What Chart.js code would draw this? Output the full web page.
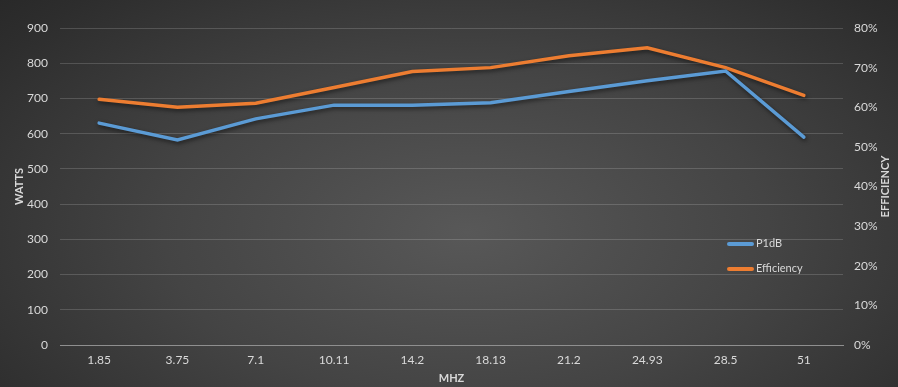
<!DOCTYPE html>
<html>
<head>
<meta charset="utf-8">
<script src="https://cdn.jsdelivr.net/npm/chart.js@4.4.1/dist/chart.umd.min.js"></script>
<style>
    html, body { margin: 0; padding: 0; }
    body {
        width: 898px; height: 387px; overflow: hidden;
        background: radial-gradient(ellipse 75% 95% at 52% 60%, #585858 0%, #444444 45%, #2d2d2d 85%, #262626 100%);
        font-family: Lato, "Open Sans", sans-serif;
    }
    .wrap { position: relative; width: 898px; height: 387px; }
    canvas { display: block; }
    .legend { position: absolute; left: 727px; top: 236px; color: #d9d9d9; font-size: 11px; }
    .legend div { height: 25px; display: flex; align-items: flex-start; }
    .legend span.sw { display: inline-block; width: 27px; height: 4px; border-radius: 2px; margin-top: 6px; margin-right: 2px; }
</style>
</head>
<body>
<div class="wrap">
    <canvas id="chart" width="898" height="387"></canvas>
    <div class="legend">
        <div><span class="sw" style="background:#5b9bd5"></span>P1dB</div>
        <div><span class="sw" style="background:#ed7d31"></span>Efficiency</div>
    </div>
</div>
<script>
var categories = ['1.85', '3.75', '7.1', '10.11', '14.2', '18.13', '21.2', '24.93', '28.5', '51'];
var p1dbWatts = [630, 582, 642, 681, 681, 688, 720, 750, 778, 590];
var efficiencyPct = [62, 60, 61, 65, 69, 70, 73, 75, 70, 63];

(function () {
    var tickColor = '#d9d9d9';
    var gridColor = 'rgba(255,255,255,0.16)';
    var fontFamily = 'Lato, "Open Sans", sans-serif';
    var tickFont = { family: fontFamily, size: 12 };
    var titleFont = { family: fontFamily, size: 11, weight: 'bold' };

    // soft drop shadow under the lines
    var shadowPlugin = {
        id: 'lineShadow',
        beforeDatasetsDraw: function (chart) {
            var ctx = chart.ctx;
            ctx.save();
            ctx.shadowColor = 'rgba(0,0,0,0.55)';
            ctx.shadowBlur = 4;
            ctx.shadowOffsetX = 1;
            ctx.shadowOffsetY = 2;
        },
        afterDatasetsDraw: function (chart) { chart.ctx.restore(); }
    };

    // right axis title reads bottom-to-top like the left one
    var rightTitle = {
        id: 'rightTitle',
        afterDraw: function (chart) {
            var ctx = chart.ctx, s = chart.scales.y1, a = chart.chartArea;
            ctx.save();
            ctx.translate(s.right - 13, (a.top + a.bottom) / 2);
            ctx.rotate(-Math.PI / 2);
            ctx.fillStyle = tickColor;
            ctx.font = 'bold 11px ' + fontFamily;
            ctx.textAlign = 'center';
            ctx.textBaseline = 'middle';
            ctx.fillText('EFFICIENCY', 0, 0);
            ctx.restore();
        }
    };

    new Chart(document.getElementById('chart'), {
        type: 'line',
        data: {
            labels: categories,
            datasets: [
                {
                    label: 'P1dB',
                    data: p1dbWatts,
                    yAxisID: 'y',
                    borderColor: '#5b9bd5',
                    backgroundColor: '#5b9bd5',
                    borderWidth: 3.5,
                    pointRadius: 0,
                    tension: 0,
                    borderCapStyle: 'round'
                },
                {
                    label: 'Efficiency',
                    data: efficiencyPct,
                    yAxisID: 'y1',
                    borderColor: '#ed7d31',
                    backgroundColor: '#ed7d31',
                    borderWidth: 3.5,
                    pointRadius: 0,
                    tension: 0,
                    borderCapStyle: 'round'
                }
            ]
        },
        options: {
            responsive: false,
            animation: false,
            layout: { padding: { left: 0, right: 0, top: 28, bottom: 0 } },
            plugins: { legend: { display: false }, tooltip: { enabled: false } },
            scales: {
                x: {
                    offset: true,
                    afterFit: function (s) { s.height = 42; },
                    grid: { display: false, drawTicks: false },
                    border: { color: '#8f8f8f', width: 1 },
                    ticks: { color: tickColor, font: tickFont, padding: 8, maxRotation: 0 },
                    title: { display: true, text: 'MHZ', color: tickColor, font: titleFont, padding: { top: 0, bottom: 2 } }
                },
                y: {
                    position: 'left',
                    min: 0, max: 900,
                    afterFit: function (s) { s.width = 60; },
                    ticks: { stepSize: 100, color: tickColor, font: tickFont, padding: 12 },
                    grid: { color: gridColor, drawTicks: false },
                    border: { display: false },
                    title: { display: true, text: 'WATTS', color: tickColor, font: titleFont, padding: { top: 13, bottom: 0 } }
                },
                y1: {
                    position: 'right',
                    min: 0, max: 80,
                    afterFit: function (s) { s.width = 55; },
                    ticks: {
                        stepSize: 10, color: tickColor, font: tickFont, padding: 11,
                        callback: function (v) { return v + '%'; }
                    },
                    grid: { drawOnChartArea: false, drawTicks: false },
                    border: { display: false },
                    title: { display: false }
                }
            }
        },
        plugins: [shadowPlugin, rightTitle]
    });
})();
</script>
</body>
</html>
